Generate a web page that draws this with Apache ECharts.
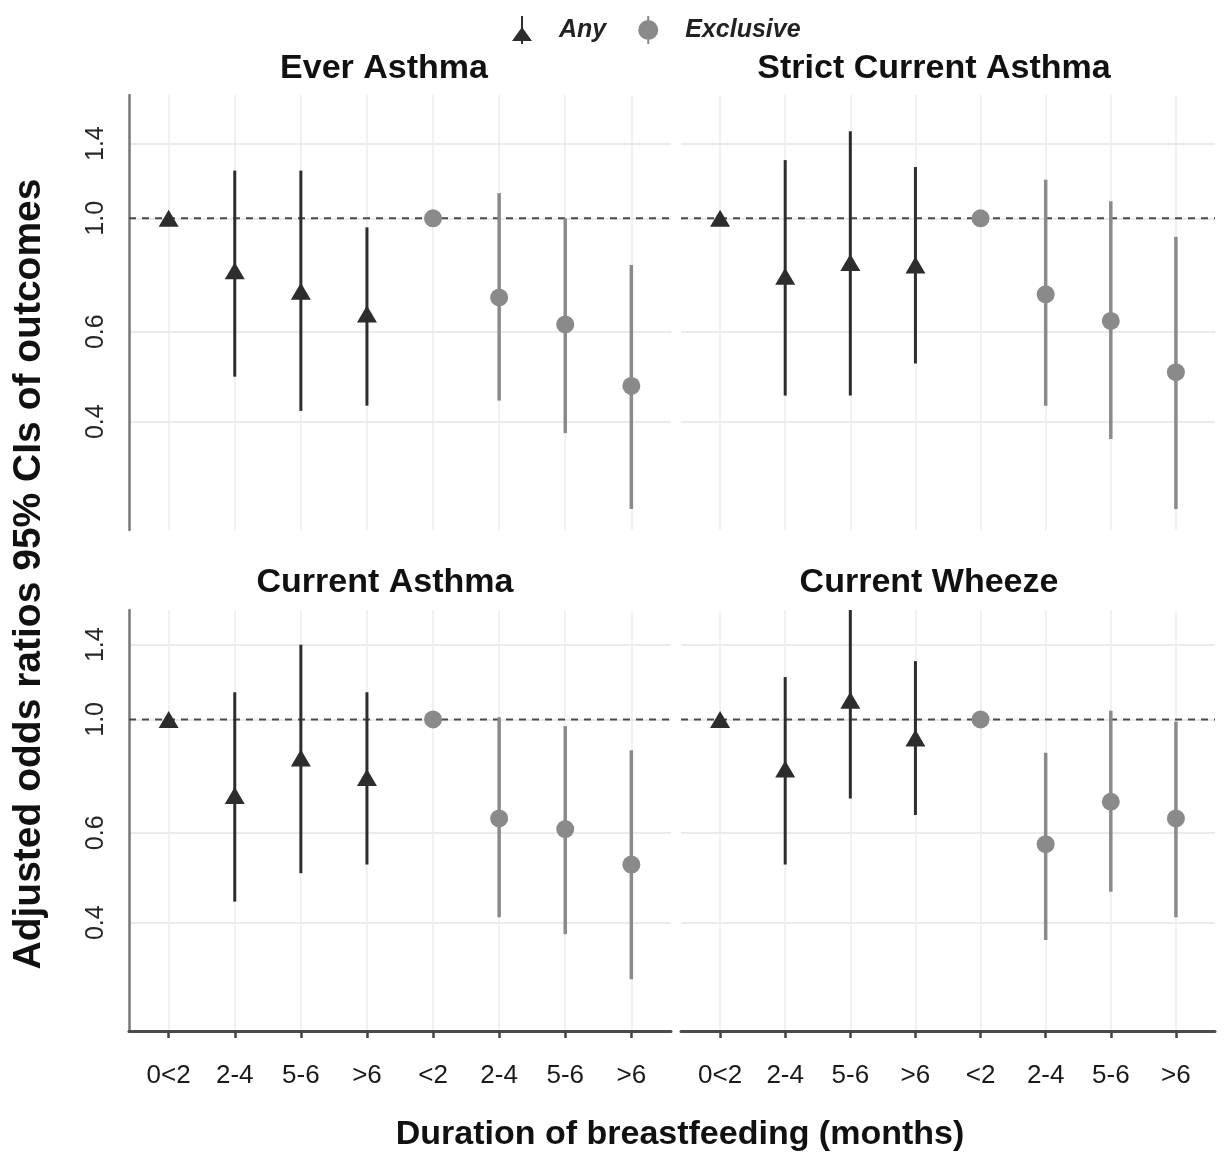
<!DOCTYPE html>
<html><head><meta charset="utf-8">
<script src="https://cdn.jsdelivr.net/npm/echarts@6/dist/echarts.min.js"></script>
<style>html,body{margin:0;padding:0;background:#fff}#chart{width:1230px;height:1155px}</style>
</head><body><div id="chart"></div>
<script>
// ---------- data ----------
const categories = ['0<2', '2-4', '5-6', '>6', '<2', '2-4', '5-6', '>6'];
const yTickValues = [0.4, 0.6, 1.0, 1.4];
const panelTitles = ['Ever Asthma', 'Strict Current Asthma', 'Current Asthma', 'Current Wheeze'];
const legendNames = ['Any', 'Exclusive'];
const referenceOR = 1.0;

// Ever Asthma
const everAnyOR  = [1.00, 0.79, 0.72, 0.65];
const everAnyLo  = [null, 0.49, 0.42, 0.43];
const everAnyHi  = [null, 1.24, 1.24, 0.96];
const everExclOR = [1.00, 0.70, 0.62, 0.47];
const everExclLo = [null, 0.44, 0.38, 0.27];
const everExclHi = [null, 1.12, 1.00, 0.81];

// Strict Current Asthma
const strictAnyOR  = [1.00, 0.77, 0.82, 0.81];
const strictAnyLo  = [null, 0.45, 0.45, 0.52];
const strictAnyHi  = [null, 1.30, 1.48, 1.26];
const strictExclOR = [1.00, 0.71, 0.63, 0.50];
const strictExclLo = [null, 0.43, 0.37, 0.27];
const strictExclHi = [null, 1.19, 1.08, 0.92];

// Current Asthma
const curAnyOR  = [1.00, 0.71, 0.84, 0.77];
const curAnyLo  = [null, 0.44, 0.50, 0.52];
const curAnyHi  = [null, 1.13, 1.40, 1.13];
const curExclOR = [1.00, 0.64, 0.61, 0.52];
const curExclLo = [null, 0.41, 0.38, 0.31];
const curExclHi = [null, 1.01, 0.97, 0.87];

// Current Wheeze
const wheezeAnyOR  = [1.00, 0.80, 1.09, 0.92];
const wheezeAnyLo  = [null, 0.52, 0.70, 0.65];
const wheezeAnyHi  = [null, 1.21, 1.64, 1.30];
const wheezeExclOR = [1.00, 0.57, 0.69, 0.64];
const wheezeExclLo = [null, 0.37, 0.46, 0.41];
const wheezeExclHi = [null, 0.86, 1.04, 0.99];

// ---------- build ----------
const panels = [
  {any: [everAnyOR, everAnyLo, everAnyHi], excl: [everExclOR, everExclLo, everExclHi]},
  {any: [strictAnyOR, strictAnyLo, strictAnyHi], excl: [strictExclOR, strictExclLo, strictExclHi]},
  {any: [curAnyOR, curAnyLo, curAnyHi], excl: [curExclOR, curExclLo, curExclHi]},
  {any: [wheezeAnyOR, wheezeAnyLo, wheezeAnyHi], excl: [wheezeExclOR, wheezeExclLo, wheezeExclHi]}
];

const FONT = '"Liberation Sans", Arial, Helvetica, sans-serif';
const ANY_COLOR = '#2d2d2d';
const EXCL_COLOR = '#8a8a8a';
const slots = categories.map((c, i) => i + 1);

const gridBoxes = [
  {left: 129, top: 95, width: 542, height: 435},
  {left: 681, top: 95, width: 534, height: 435},
  {left: 129, top: 610, width: 542, height: 421},
  {left: 681, top: 610, width: 534, height: 421}
];
const yRanges = [[0.2456, 1.743], [0.2456, 1.743], [0.2456, 1.637], [0.2456, 1.637]];

const xAxes = [], yAxes = [], series = [];
gridBoxes.forEach((g, p) => {
  const bottom = p >= 2, leftCol = p % 2 === 0;
  xAxes.push({
    gridIndex: p, type: 'value', min: 0.4, max: 8.6,
    axisLine: {show: bottom, onZero: false, lineStyle: {color: '#4a4a4a', width: 3}},
    axisTick: {show: bottom, customValues: slots, length: 7, lineStyle: {color: '#444', width: 2.5}},
    axisLabel: {show: bottom, customValues: slots, formatter: v => categories[Math.round(v) - 1] || '',
      fontFamily: FONT, fontSize: 26, color: '#1a1a1a', margin: 32},
    splitLine: {show: true, lineStyle: {color: '#ececec', width: 1.5}}
  });
  yAxes.push({
    gridIndex: p, type: 'log', logBase: 10, min: yRanges[p][0], max: yRanges[p][1],
    axisLine: {show: leftCol, lineStyle: {color: '#777', width: 2.5}},
    axisTick: {show: false, customValues: yTickValues},
    axisLabel: {show: leftCol, customValues: yTickValues, rotate: 90, formatter: v => Number(v).toFixed(1),
      fontFamily: FONT, fontSize: 25, color: '#262626', margin: 20},
    splitLine: {show: true, lineStyle: {color: '#ebebeb', width: 2}}
  });

  // reference dashed line at OR = 1
  series.push({
    type: 'line', xAxisIndex: p, yAxisIndex: p, z: 1, silent: true, symbol: 'none',
    data: [[0.4, referenceOR], [8.6, referenceOR]],
    lineStyle: {color: '#4a4a4a', width: 2, type: [7, 6]}
  });

  const groups = [
    {name: legendNames[0], arr: panels[p].any, off: 1, color: ANY_COLOR, symbol: 'triangle', size: [20, 17], lw: 3},
    {name: legendNames[1], arr: panels[p].excl, off: 5, color: EXCL_COLOR, symbol: 'circle', size: 18, lw: 3.5}
  ];
  groups.forEach(gr => {
    const [or, lo, hi] = gr.arr;
    const ciData = [];
    or.forEach((v, i) => { if (lo[i] != null) ciData.push([i + gr.off, lo[i], hi[i]]); });
    series.push({
      type: 'custom', name: gr.name + ' CI', xAxisIndex: p, yAxisIndex: p, z: 2, silent: true,
      clip: true,
      encode: {x: 0, y: [1, 2]},
      data: ciData,
      renderItem: (params, api) => {
        const a = api.coord([api.value(0), api.value(1)]);
        const b = api.coord([api.value(0), api.value(2)]);
        return {type: 'line', shape: {x1: a[0], y1: a[1], x2: b[0], y2: b[1]},
          style: {stroke: gr.color, lineWidth: gr.lw}};
      }
    });
    series.push({
      type: 'scatter', name: gr.name, xAxisIndex: p, yAxisIndex: p, z: 3, silent: true,
      symbol: gr.symbol, symbolSize: gr.size,
      itemStyle: {color: gr.color, opacity: 1},
      data: or.map((v, i) => [i + gr.off, v])
    });
  });
});

const titleCenters = [[384, 66], [934, 66], [385, 580], [929, 580]];
const titles = panelTitles.map((t, i) => ({
  text: t, left: titleCenters[i][0], top: titleCenters[i][1] - 14, textAlign: 'center', padding: 0,
  textStyle: {fontFamily: FONT, fontSize: 34, fontWeight: 'bold', color: '#111'}
}));

const triIcon = 'path://M9,0H11V28H9Z M10,11L20,25H0Z';
const cirIcon = 'path://M9,0H11V28H9Z M10,4A10,10,0,1,1,10,24A10,10,0,1,1,10,4Z';

const option = {
  backgroundColor: '#fff',
  animation: false,
  title: titles,
  legend: {
    top: 16, left: 512, itemWidth: 20, itemHeight: 28, itemGap: 32, padding: 0,
    selectedMode: false,
    data: [{name: legendNames[0], icon: triIcon}, {name: legendNames[1], icon: cirIcon}],
    textStyle: {fontFamily: FONT, fontSize: 25, fontStyle: 'italic', fontWeight: 'bold', color: '#222', padding: [0, 0, 0, 22]}
  },
  grid: gridBoxes.map(g => Object.assign({containLabel: false}, g)),
  xAxis: xAxes,
  yAxis: yAxes,
  series: series,
  graphic: [
    {type: 'text', x: 29, y: 574, rotation: Math.PI / 2,
      style: {text: 'Adjusted odds ratios 95% CIs of outcomes', fontFamily: FONT, fontSize: 39, fontWeight: 'bold',
        fill: '#111', textAlign: 'center', textVerticalAlign: 'middle'}},
    {type: 'text', x: 680, y: 1135,
      style: {text: 'Duration of breastfeeding (months)', fontFamily: FONT, fontSize: 34, fontWeight: 'bold',
        fill: '#111', textAlign: 'center', textVerticalAlign: 'middle'}}
  ]
};

const chart = echarts.init(document.getElementById('chart'), null, {renderer: 'canvas'});
chart.setOption(option);
</script>
</body></html>
